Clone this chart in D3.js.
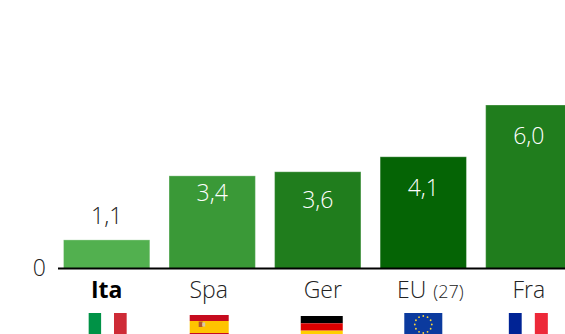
<!DOCTYPE html>
<html>
<head>
<meta charset="utf-8">
<script src="https://cdn.jsdelivr.net/npm/d3@7"></script>
<style>
  html, body { margin: 0; padding: 0; background: #fff; }
  svg { display: block; }
  text { font-family: "Open Sans", sans-serif; font-weight: 300; fill: #222; }
</style>
</head>
<body>
<svg id="chart"></svg>
<script>
const categories = ["Ita", "Spa", "Ger", "EU", "Fra"];
const values = [1.05, 3.4, 3.55, 4.1, 6.0];
const valueLabels = ["1,1", "3,4", "3,6", "4,1", "6,0"];
const barColors = ["#52b04f", "#3a9937", "#207d1d", "#056405", "#207d1d"];
const flagIds = ["it", "es", "de", "eu", "fr"];

const width = 565;
const height = 334;
const baseline = 268.5;

// hand placed in the original, so offsets are per bar
const labelDy = [-16, 25, 36, 39, 39];
const categoryDx = [0, -3.5, 5, 7, 0];
const flagDx = [1, -3, 4, 0, -0.5];

const svg = d3.select("#chart").attr("width", width).attr("height", height);

const x = d3.scaleBand().domain(categories).range([63.5, 572]).paddingInner(0.182);
const y = d3.scaleLinear().domain([0, 6]).range([baseline, 105]);

svg
  .selectAll("rect.bar")
  .data(categories)
  .join("rect")
  .attr("class", "bar")
  .attr("x", (d) => x(d))
  .attr("y", (d, i) => y(values[i]))
  .attr("width", x.bandwidth())
  .attr("height", (d, i) => baseline - y(values[i]))
  .attr("fill", (d, i) => barColors[i])
  .attr("stroke", "#fff")
  .attr("stroke-opacity", 0.3)
  .attr("stroke-width", 1);

svg
  .append("line")
  .attr("x1", 58)
  .attr("x2", width)
  .attr("y1", baseline)
  .attr("y2", baseline)
  .attr("stroke", "#000")
  .attr("stroke-width", 2);

svg
  .append("text")
  .attr("x", 46)
  .attr("y", 276)
  .attr("text-anchor", "end")
  .attr("font-size", "23px")
  .text("0");

svg
  .selectAll("text.value")
  .data(valueLabels)
  .join("text")
  .attr("class", "value")
  .attr("x", (d, i) => x(categories[i]) + x.bandwidth() / 2)
  .attr("y", (d, i) => y(values[i]) + labelDy[i])
  .attr("text-anchor", "middle")
  .attr("font-size", "23px")
  .style("fill", (d, i) => (i === 0 ? "#222" : "#fff"))
  .text((d) => d);

const catLabels = svg
  .selectAll("text.cat")
  .data(categories)
  .join("text")
  .attr("class", "cat")
  .attr("x", (d, i) => x(d) + x.bandwidth() / 2 + categoryDx[i])
  .attr("y", 298)
  .attr("text-anchor", "middle")
  .attr("font-size", "23px")
  .style("font-weight", (d, i) => (i === 0 ? 700 : 300))
  .style("fill", (d, i) => (i === 0 ? "#000" : "#222"))
  .text((d) => d);

catLabels
  .filter((d) => d === "EU")
  .append("tspan")
  .attr("dx", 7)
  .attr("font-size", "18px")
  .text("(27)");

function stripes(g, cols, w, h, vertical) {
  cols.forEach(([color, size], i) => {
    const start = d3.sum(cols.slice(0, i), (c) => c[1]);
    g.append("rect")
      .attr("x", vertical ? start * w : 0)
      .attr("y", vertical ? 0 : start * h)
      .attr("width", vertical ? size * w : w)
      .attr("height", vertical ? h : size * h)
      .attr("fill", color);
  });
}

const flags = {
  it: (g) => {
    g.attr("transform", (t) => t);
    stripes(g, [["#009246", 1 / 3], ["#fff", 1 / 3], ["#ce2b37", 1 / 3]], 38, 24, true);
  },
  es: (g) => {
    stripes(g, [["#c60b1e", 0.25], ["#ffc400", 0.5], ["#c60b1e", 0.25]], 39, 24, false);
    g.append("rect").attr("x", 9).attr("y", 6.5).attr("width", 4).attr("height", 5.5).attr("fill", "#b5542f");
    g.append("rect").attr("x", 12.5).attr("y", 7.5).attr("width", 3).attr("height", 4).attr("fill", "#d9c9a8");
  },
  de: (g) => {
    stripes(g, [["#000", 1 / 3], ["#dd0000", 1 / 3], ["#ffce00", 1 / 3]], 42, 22, false);
  },
  eu: (g) => {
    g.append("rect").attr("width", 38).attr("height", 24).attr("fill", "#0b3a9e");
    d3.range(12).forEach((k) => {
      const a = (k * Math.PI) / 6;
      g.append("circle")
        .attr("cx", 19 + 8.5 * Math.cos(a))
        .attr("cy", 11.5 + 8.5 * Math.sin(a))
        .attr("r", 0.9)
        .attr("fill", "#ffd83a");
    });
  },
  fr: (g) => {
    stripes(g, [["#002395", 1 / 3], ["#fff", 1 / 3], ["#ed2939", 1 / 3]], 39, 24, true);
  },
};

const flagSize = { it: [38, 313], es: [39, 315], de: [42, 316], eu: [38, 313], fr: [39, 313] };

flagIds.forEach((id, i) => {
  const cx = x(categories[i]) + x.bandwidth() / 2 + flagDx[i];
  const g = svg
    .append("g")
    .attr("transform", `translate(${cx - flagSize[id][0] / 2},${flagSize[id][1]})`);
  const t = g.attr("transform");
  flags[id](g);
  g.attr("transform", t);
});
</script>
</body>
</html>
